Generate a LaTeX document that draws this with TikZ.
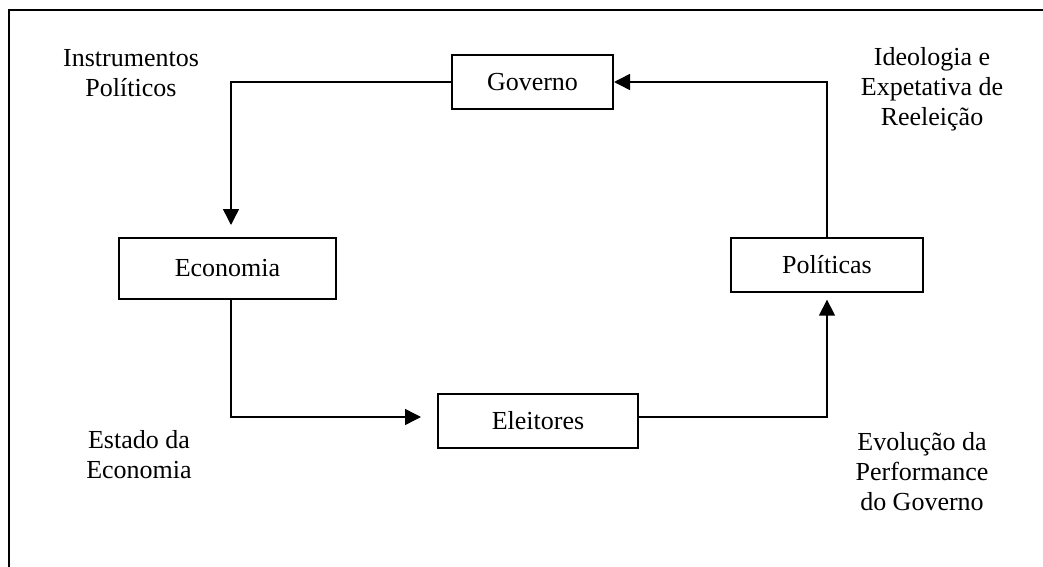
\documentclass[tikz,border=0pt]{standalone}
\usepackage{fontspec}
\setmainfont{Liberation Serif}
\usetikzlibrary{arrows.meta,calc}
\begin{document}
\begin{tikzpicture}[x=0.75pt,y=-0.75pt,
  txt/.style={font=\fontsize{19.5}{22.5}\selectfont, align=center, inner sep=0pt},
  box/.style={draw, line width=1.5pt, inner sep=0pt, minimum height=40.5pt, txt},
  conn/.style={line width=1.1pt, -{Triangle[length=12pt,width=12pt]}},
  frame/.style={line width=1.5pt}]
\useasboundingbox (0,0) rectangle (1043,567);
\draw[frame] (8.5,567) -- (8.5,10.5) -- (1043,10.5);

\node[box, minimum width=120.75pt] (gov) at (532.5,82) {Governo};
\node[box, minimum width=162.75pt, minimum height=45.75pt] (eco) at (227.5,268.5) {Economia};
\node[box, minimum width=144pt] (pol) at (827,265) {Políticas};
\node[box, minimum width=150pt] (ele) at (538,421) {Eleitores};

\node[txt] (l1) at (131,73) {Instrumentos\\Políticos};
\node[txt] (l2) at (932,89) {Ideologia e\\Expetativa de\\Reeleição};
\node[txt] (l3) at (139,455) {Estado da\\Economia};
\node[txt] (l4) at (922,472) {Evolução da\\Performance\\do Governo};

\coordinate (ecoN) at ($(eco.north)+(3.5,0)$);
\coordinate (ecoS) at ($(eco.south)+(3.5,0)$);
\coordinate (eleW) at ($(ele.west)+(0,-4)$);
\coordinate (eleE) at ($(ele.east)+(0,-4)$);

\draw[conn, shorten >=9pt] (gov.west) -| (ecoN);
\draw[conn, shorten >=12pt] (ecoS) |- (eleW);
\draw[conn, shorten >=5pt] (eleE) -| (pol.south);
\draw[conn] (pol.north) |- (gov.east);
\end{tikzpicture}
\end{document}
